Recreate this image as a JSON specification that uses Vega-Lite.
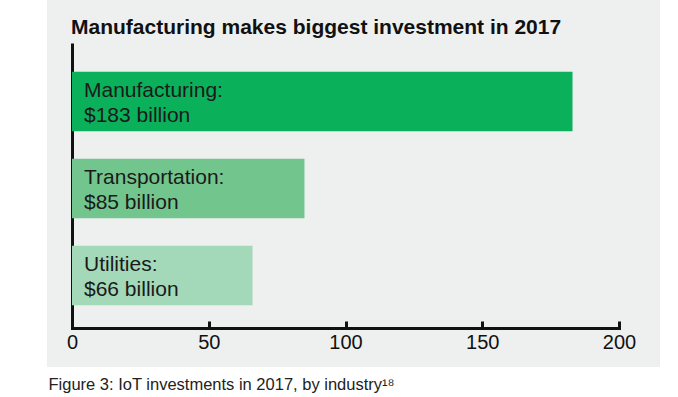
{
  "$schema": "https://vega.github.io/schema/vega-lite/v6.json",
  "autosize": {"type": "none"},
  "padding": {"left": 47, "top": 0, "right": 18, "bottom": 30},
  "width": 613,
  "height": 367,
  "background": "#ffffff",
  "config": {
    "view": {"fill": "#eeefef", "stroke": null},
    "font": "Liberation Sans"
  },
  "title": {
    "text": "Manufacturing makes biggest investment in 2017",
    "anchor": "start",
    "frame": "group",
    "orient": "top",
    "fontSize": 21,
    "fontWeight": "bold",
    "color": "#111111",
    "baseline": "alphabetic",
    "offset": 0,
    "dx": 24,
    "dy": 55
  },
  "data": {
    "values": [
      {"industry": "Manufacturing", "value": 183, "label": "Manufacturing:\n$183 billion"},
      {"industry": "Transportation", "value": 85, "label": "Transportation:\n$85 billion"},
      {"industry": "Utilities", "value": 66, "label": "Utilities:\n$66 billion"}
    ]
  },
  "encoding": {
    "y": {
      "field": "industry",
      "type": "nominal",
      "sort": ["Manufacturing", "Transportation", "Utilities"],
      "scale": {"range": [43, 328], "paddingInner": 0.316, "paddingOuter": 0.296, "align": 0.56},
      "axis": {
        "title": null,
        "labels": false,
        "ticks": false,
        "grid": false,
        "domain": true,
        "domainColor": "#111111",
        "domainWidth": 3,
        "offset": -25
      }
    }
  },
  "layer": [
    {
      "mark": {"type": "bar"},
      "encoding": {
        "x": {
          "field": "value",
          "type": "quantitative",
          "scale": {"domain": [0, 200], "range": [25, 572], "nice": false, "zero": true},
          "axis": {
            "title": "Figure 3: IoT investments in 2017, by industry¹⁸",
            "titleFont": "Liberation Sans",
            "titleFontSize": 16.5,
            "titleFontWeight": "normal",
            "titleColor": "#222222",
            "titleAnchor": "start",
            "titleAlign": "left",
            "titleBaseline": "alphabetic",
            "titleX": 1,
            "titleY": 61,
            "values": [0, 50, 100, 150, 200],
            "offset": -39,
            "grid": false,
            "domain": true,
            "domainColor": "#111111",
            "domainWidth": 3,
            "domainCap": "square",
            "ticks": true,
            "tickColor": "#111111",
            "tickWidth": 3,
            "tickSize": -7,
            "labelFontSize": 20,
            "labelColor": "#111111",
            "labelPadding": 11,
            "labelFlush": false
          }
        },
        "color": {
          "field": "industry",
          "type": "nominal",
          "scale": {
            "domain": ["Manufacturing", "Transportation", "Utilities"],
            "range": ["#0bb05a", "#73c58e", "#a3d8b8"]
          },
          "legend": null
        }
      }
    },
    {
      "mark": {
        "type": "text",
        "align": "left",
        "baseline": "middle",
        "dx": 12,
        "dy": -11,
        "fontSize": 21,
        "lineHeight": 25,
        "lineBreak": "\n",
        "color": "#1a1a1a"
      },
      "encoding": {
        "x": {"datum": 0, "type": "quantitative"},
        "text": {"field": "label"}
      }
    }
  ]
}
